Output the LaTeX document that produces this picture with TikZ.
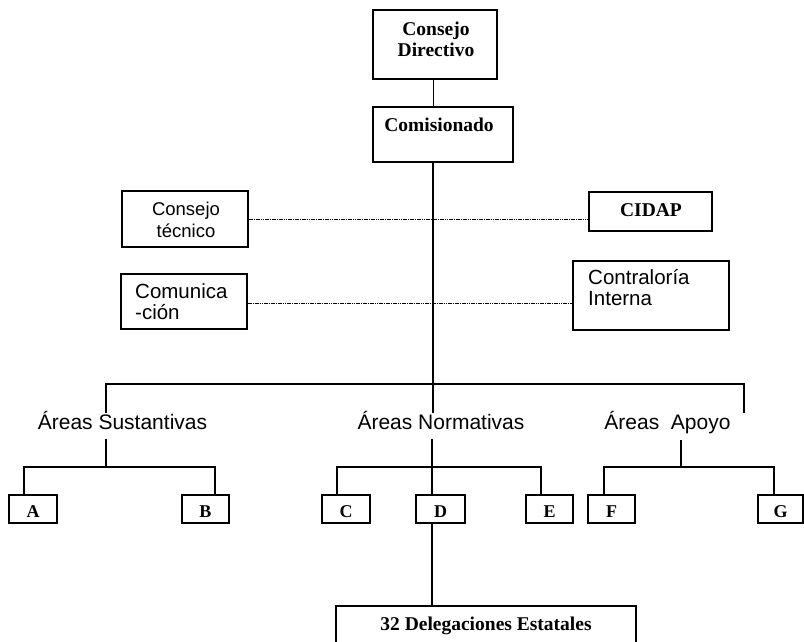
\documentclass[tikz,border=0pt]{standalone}
\usepackage{fontspec}
\setmainfont{Liberation Serif}
\setsansfont{Liberation Sans}
\begin{document}
\begin{tikzpicture}[x=1pt,y=-1pt,
  box/.style={draw, line width=2pt, inner sep=0pt},
  conn/.style={line width=1.5pt},
  dots/.style={line width=0.9pt, dash pattern=on 1.6pt off 0.7pt},
  ser/.style={font=\fontsize{19.5}{21}\selectfont\bfseries, inner sep=0pt, anchor=base},
  let/.style={font=\fontsize{18}{20}\selectfont\bfseries, inner sep=0pt, anchor=base},
  sansA/.style={font=\sffamily\fontsize{18.5}{20}\selectfont, inner sep=0pt, anchor=base},
  sansB/.style={font=\sffamily\fontsize{20.5}{22}\selectfont, inner sep=0pt, anchor=base west},
  area/.style={font=\sffamily\fontsize{21}{23}\selectfont, inner sep=0pt, anchor=base}]
\clip (0,0) rectangle (804,641);
\fill[white] (0,0) rectangle (804,641);

% boxes
\node[box, minimum width=124pt, minimum height=69pt] (dir) at (435,44.5) {};
\node[box, minimum width=140pt, minimum height=55pt] (com) at (443,134.5) {};
\node[box, minimum width=126pt, minimum height=56pt] (ct) at (185,219) {};
\node[box, minimum width=123pt, minimum height=39pt] (cidap) at (650.5,211.5) {};
\node[box, minimum width=126pt, minimum height=55pt] (comu) at (184,301.5) {};
\node[box, minimum width=156pt, minimum height=69pt] (contra) at (651,295.5) {};
\node[box, minimum width=48pt, minimum height=28pt] (A) at (33,509) {};
\node[box, minimum width=47pt, minimum height=28pt] (B) at (205.5,509) {};
\node[box, minimum width=48pt, minimum height=28pt] (C) at (346,509) {};
\node[box, minimum width=49pt, minimum height=28pt] (D) at (440.5,509) {};
\node[box, minimum width=47pt, minimum height=28pt] (E) at (549.5,509) {};
\node[box, minimum width=47pt, minimum height=28pt] (F) at (611.5,509) {};
\node[box, minimum width=45pt, minimum height=28pt] (G) at (780.5,509) {};
\node[box, minimum width=300pt, minimum height=44pt] (deleg) at (486,628) {};

% texts
\node[ser] (dirT1) at (436,35) {Consejo};
\node[ser] (dirT2) at (436,56) {Directivo};
\node[ser] (comT) at (439,131) {Comisionado};
\node[sansA] (ctT1) at (186,215) {Consejo};
\node[sansA] (ctT2) at (186,237) {técnico};
\node[ser] (cidapT) at (651,216) {CIDAP};
\node[sansB] (comuT1) at (135,298) {Comunica};
\node[sansB] (comuT2) at (135,319) {-ción};
\node[sansB] (contraT1) at (588,284) {Contraloría};
\node[sansB] (contraT2) at (588,305) {Interna};
\node[area] (sust) at (122.5,429) {Áreas Sustantivas};
\node[area] (norm) at (441,429) {Áreas Normativas};
\node[area] (apoyo) at (667.5,429) {Áreas\ \ Apoyo};
\node[let] (AT) at (33,517) {A};
\node[let] (BT) at (205.5,517) {B};
\node[let] (CT) at (346,517) {C};
\node[let] (DT) at (440.5,517) {D};
\node[let] (ET) at (549.5,517) {E};
\node[let] (FT) at (611.5,517) {F};
\node[let] (GT) at (780.5,517) {G};
\node[ser] (delegT) at (486,630) {32 Delegaciones Estatales};

% coordinates
\coordinate (m) at (433.5,0);
\coordinate (nTop) at (433,413);
\coordinate (bus) at (433,384);
\coordinate (busL) at (106,413);
\coordinate (busR) at (744,413);
\coordinate (sT) at (106,439);
\coordinate (sB) at (106,467);
\coordinate (xa) at (24,467);
\coordinate (xb) at (215,467);
\coordinate (nT) at (432,439);
\coordinate (xc) at (337,467);
\coordinate (xe) at (541,467);
\coordinate (aT) at (681,440);
\coordinate (aB) at (681,467);
\coordinate (xf) at (604,467);
\coordinate (xg) at (774,467);

% connectors
\draw[conn] (dir.south -| m) -- (com.north -| m);
\draw[conn] (com.south -| nTop) -- (nTop);
\draw[conn] (busL) -- (busL |- bus) -- (busR |- bus) -- (busR);
\draw[dots] (ct.east) -- (cidap.west |- ct.east);
\draw[dots] ([yshift=-1.5pt]comu.east) -- ([yshift=-1.5pt]contra.west |- comu.east);

\draw[conn] (sT) -- (sB);
\draw[conn] (A.north -| xa) -- (xa) -- (xb) -- (B.north -| xb);

\draw[conn] (nT) -- (D.north -| nT);
\draw[conn] (C.north -| xc) -- (xc) -- (xe) -- (E.north -| xe);
\draw[conn] (D.south -| nT) -- (deleg.north -| nT);

\draw[conn] (aT) -- (aB);
\draw[conn] (F.north -| xf) -- (xf) -- (xg) -- (G.north -| xg);
\end{tikzpicture}
\end{document}
